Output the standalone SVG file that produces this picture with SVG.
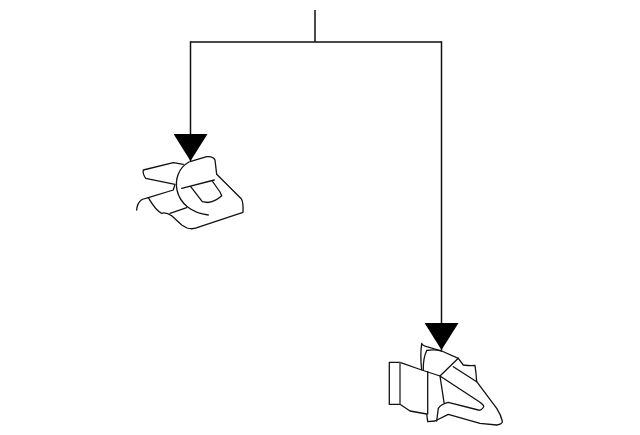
<svg xmlns="http://www.w3.org/2000/svg" width="640" height="435" viewBox="0 0 640 435">
<style>
.c{fill:none;stroke:#111;stroke-width:1.5}
.p{fill:none;stroke:#111;stroke-width:1.3;stroke-linejoin:round;stroke-linecap:round}
.g{fill:none;stroke:#777;stroke-width:1.3}
</style>
<defs>
<marker id="a" markerUnits="userSpaceOnUse" markerWidth="34" markerHeight="28" refX="17" refY="27" orient="0" viewBox="0 0 34 28"><path d="M0 0H34L17 27Z" fill="#000"/></marker>
</defs>
<rect width="640" height="435" fill="#fff"/>
<g id="part-upper">
<path class="p" d="M190 161.7L206.7 156.700Q213 156 215 160L216.700 174.300L241.500 199Q243.500 203 243 212.300L200 226.700Q193 230 187 228L181.700 225L171.700 215.700Q166 212 161.700 213.300Q156 211 148.300 197.700L142 199.500Q137 203 136.700 210"/>
<path class="p" d="M148.300 197.700L173.300 190L175 184.300L145.700 178.300Q142.500 174 143.300 170L173.300 162.700L183.300 164.300"/>
<path class="p" d="M189 162C178 168 175 180 177 190C180 204 192 213 208.300 215"/>
<path class="p" d="M181.700 188.300L214.300 180M190.700 186.700L202.300 201.700L208 202.500Q216 201 221.700 195.700L220 192L212.300 181M170 213.300L186.700 207.700"/>
</g>
<g id="part-lower">
<path class="p" d="M389.300 362.300H400V404.300H389.300ZM400 362.300L421.700 370L440 376M400 404.300L410 411L426.700 414L427.700 421.700L435 421L448.300 414.300L480 423.300L496.700 425Q503 424 502.300 421Q501 415 496.700 408.300L476.700 381.700Q476 372 475 365.500Q470 366 463.300 365L458.300 358.300L441.700 351L426.700 346.700Q422 345 421.700 343.300Q420 355 421.700 370"/>
<path class="g" d="M400 362.300V404.300"/>
<path class="p" d="M426.700 350.500Q423 358 423.300 370M427.700 371.700V414M440 376L458.300 358.300M440 376L480 402.300Q485 406 483.300 407.500Q481 411 478.300 410L448.300 402.300Q441 404 438.300 408.300L436.700 421M440 376L444 402.300M453.300 366.700L476.700 381.700M426.700 350.500Q434 349 441.700 351"/>
</g>
<g id="connectors">
<path class="c" d="M315 10V42M190.500 42H441.500"/>
<path class="c" d="M190.500 41.300V161" marker-end="url(#a)"/>
<path class="c" d="M441.500 41.300V350" marker-end="url(#a)"/>
</g>
</svg>
